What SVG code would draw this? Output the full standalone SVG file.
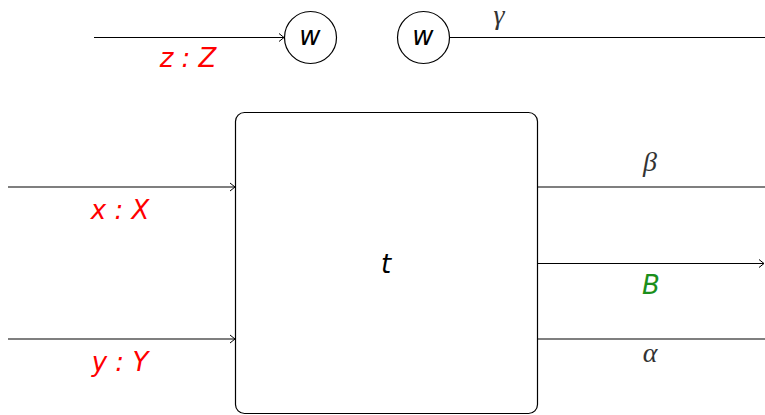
<svg xmlns="http://www.w3.org/2000/svg" width="765" height="415" viewBox="0 0 765 415">
<defs>
<marker id="arr" markerWidth="10" markerHeight="10" refX="8" refY="5" orient="auto" markerUnits="userSpaceOnUse">
<path d="M3,1 L8,5 L3,9" fill="none" stroke="#000" stroke-width="1"/>
</marker>
<style>
.wire{stroke:#000;stroke-width:1.1;fill:none}
.lbl{font-family:"DejaVu Sans",sans-serif;font-style:italic;font-size:26px;text-anchor:middle}
.red{fill:#ff0000}
.grn{fill:#1b8f1b}
.grk{font-family:"Liberation Serif",serif;font-style:italic;font-size:28px;text-anchor:middle;fill:#333}
.node{fill:#fff;stroke:#000;stroke-width:1.2}
</style>
</defs>
<rect width="765" height="415" fill="#fff"/>
<g id="connectors">
<line class="wire" x1="94" y1="37.5" x2="284" y2="37.5" marker-end="url(#arr)"/>
<line class="wire" x1="449" y1="37.5" x2="765" y2="37.5"/>
<line class="wire" x1="8" y1="187" x2="235" y2="187" marker-end="url(#arr)"/>
<line class="wire" x1="8" y1="339" x2="235" y2="339" marker-end="url(#arr)"/>
<line class="wire" x1="538" y1="187" x2="765" y2="187"/>
<line class="wire" x1="538" y1="263.5" x2="764" y2="263.5" marker-end="url(#arr)"/>
<line class="wire" x1="538" y1="339" x2="765" y2="339"/>
<text class="lbl red" x="188" y="67">z : Z</text>
<text class="lbl red" x="120" y="219">x : X</text>
<text class="lbl red" x="120" y="371">y : Y</text>
<text class="lbl grn" x="651" y="294">B</text>
<text class="grk" x="499" y="24">γ</text>
<text class="grk" x="650" y="171">β</text>
<text class="grk" x="650" y="362">α</text>
</g>
<g id="w1">
<circle class="node" cx="310.5" cy="37.5" r="26"/>
<text class="lbl" x="310" y="45" fill="#000">w</text>
</g>
<g id="w2">
<circle class="node" cx="423.5" cy="37.5" r="26"/>
<text class="lbl" x="423" y="45" fill="#000">w</text>
</g>
<g id="t">
<rect class="node" x="235.5" y="112.5" width="302" height="301" rx="9" ry="9"/>
<text class="lbl" x="386" y="273" fill="#000">t</text>
</g>
</svg>
